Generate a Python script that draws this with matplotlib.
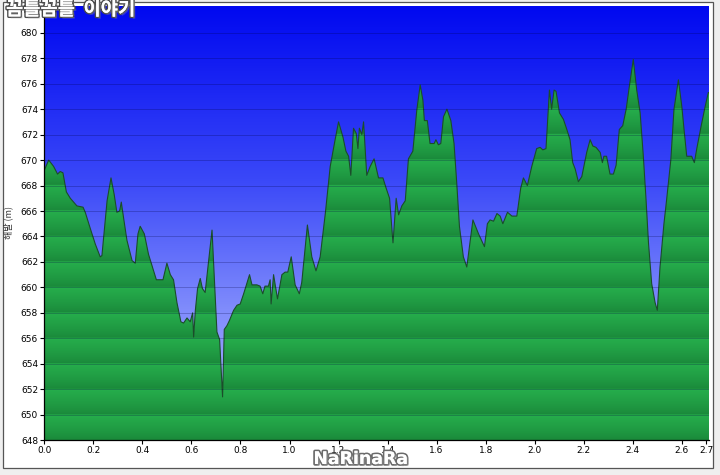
import numpy as np
import matplotlib.pyplot as plt
import matplotlib.patheffects as pe
from matplotlib.colors import LinearSegmentedColormap
from matplotlib.patches import Rectangle, Polygon

# elevation profile (distance in km, elevation in m)
dist_km = [0.000, 0.018, 0.038, 0.054, 0.065, 0.076, 0.090, 0.106, 0.133, 0.158,
           0.167, 0.188, 0.208, 0.228, 0.235, 0.256, 0.272, 0.285, 0.296, 0.307,
           0.314, 0.323, 0.337, 0.358, 0.371, 0.382, 0.391, 0.408, 0.425, 0.457,
           0.484, 0.500, 0.514, 0.527, 0.541, 0.557, 0.568, 0.582, 0.595, 0.605,
           0.609, 0.616, 0.625, 0.636, 0.645, 0.656, 0.684, 0.704, 0.715, 0.727,
           0.734, 0.745, 0.755, 0.772, 0.786, 0.799, 0.813, 0.837, 0.847, 0.867,
           0.880, 0.891, 0.900, 0.914, 0.921, 0.925, 0.935, 0.951, 0.969, 0.982,
           0.993, 1.007, 1.023, 1.040, 1.050, 1.073, 1.091, 1.108, 1.125, 1.146,
           1.166, 1.186, 1.200, 1.218, 1.230, 1.241, 1.250, 1.261, 1.272, 1.279,
           1.285, 1.295, 1.302, 1.315, 1.329, 1.345, 1.363, 1.381, 1.394, 1.408,
           1.422, 1.435, 1.445, 1.458, 1.472, 1.485, 1.503, 1.519, 1.533, 1.544,
           1.550, 1.562, 1.573, 1.590, 1.597, 1.607, 1.617, 1.628, 1.642, 1.658,
           1.671, 1.682, 1.693, 1.709, 1.723, 1.734, 1.748, 1.771, 1.795, 1.807,
           1.818, 1.832, 1.846, 1.859, 1.870, 1.889, 1.907, 1.927, 1.943, 1.954,
           1.970, 1.988, 2.008, 2.022, 2.033, 2.046, 2.060, 2.069, 2.079, 2.087,
           2.101, 2.117, 2.131, 2.144, 2.155, 2.165, 2.178, 2.192, 2.212, 2.226,
           2.237, 2.250, 2.267, 2.276, 2.282, 2.293, 2.307, 2.321, 2.332, 2.345,
           2.359, 2.373, 2.386, 2.402, 2.416, 2.430, 2.443, 2.454, 2.464, 2.477,
           2.491, 2.500, 2.511, 2.527, 2.538, 2.555, 2.568, 2.586, 2.600, 2.609,
           2.620, 2.640, 2.651, 2.661, 2.678, 2.695, 2.708, 2.712]
elev_m = [669.2, 670.0, 669.5, 668.9, 669.1, 669.0, 667.5, 667.0, 666.4, 666.3,
          665.9, 664.6, 663.4, 662.4, 662.5, 666.8, 668.6, 667.3, 665.9, 666.0,
          666.7, 665.5, 663.7, 662.1, 661.9, 664.2, 664.8, 664.2, 662.6, 660.6,
          660.6, 661.9, 661.0, 660.6, 658.8, 657.3, 657.2, 657.6, 657.3, 658.0,
          656.1, 658.2, 659.9, 660.7, 659.9, 659.6, 664.5, 656.5, 655.9, 651.4,
          656.7, 657.0, 657.4, 658.2, 658.6, 658.7, 659.5, 661.0, 660.2, 660.2,
          660.1, 659.5, 660.1, 660.1, 660.6, 658.7, 661.0, 659.1, 661.0, 661.2,
          661.2, 662.4, 660.2, 659.5, 660.4, 664.9, 662.4, 661.3, 662.4, 665.8,
          669.5, 671.6, 673.0, 671.8, 670.7, 670.3, 668.8, 672.5, 672.1, 670.9,
          672.5, 672.0, 673.0, 668.8, 669.5, 670.1, 668.6, 668.6, 667.8, 667.0,
          663.5, 667.0, 665.7, 666.4, 666.8, 670.1, 670.7, 673.9, 675.9, 674.7,
          673.1, 673.1, 671.3, 671.3, 671.6, 671.2, 671.3, 673.4, 674.0, 673.1,
          671.3, 668.2, 664.8, 662.4, 661.6, 663.2, 665.3, 664.2, 663.2, 665.0,
          665.3, 665.2, 665.8, 665.6, 665.0, 665.9, 665.6, 665.6, 667.8, 668.6,
          668.0, 669.5, 670.9, 671.0, 670.8, 670.9, 675.5, 674.0, 675.5, 675.4,
          673.7, 673.2, 672.4, 671.6, 669.8, 669.3, 668.3, 668.7, 670.6, 671.6,
          671.1, 671.0, 670.6, 669.8, 670.3, 670.3, 668.9, 668.9, 669.6, 672.4,
          672.7, 674.0, 675.8, 677.9, 675.5, 673.7, 670.3, 666.9, 663.5, 660.3,
          658.8, 658.2, 661.6, 665.0, 666.9, 670.0, 674.0, 676.3, 674.2, 672.4,
          670.3, 670.3, 669.8, 670.9, 672.6, 674.2, 675.3, 675.3]

x_ticks = [0.0, 0.2, 0.4, 0.6, 0.8, 1.0, 1.2, 1.4, 1.6, 1.8, 2.0, 2.2, 2.4, 2.6, 2.7]
x_labels = ["0.0", "0.2", "0.4", "0.6", "0.8", "1.0", "1.2", "1.4", "1.6", "1.8",
            "2.0", "2.2", "2.4", "2.6", "2.7"]
y_ticks = list(range(648, 681, 2))

xmin, xmax = 0.0, 2.712
ymin, ymax = 648.0, 682.1

fig = plt.figure(figsize=(7.2, 4.75), dpi=100)
fig.patch.set_facecolor('#efefef')
# white page with thin border
fig.patches.append(Rectangle((3 / 720, 7 / 475), 710 / 720, 466 / 475,
                             transform=fig.transFigure, facecolor='white',
                             edgecolor='#555555', lw=0.9, zorder=-10))

ax = fig.add_axes([44.3 / 720, 34.8 / 475, 665 / 720, 434.2 / 475])
ax.set_zorder(1)

# blue sky gradient
blue = LinearSegmentedColormap.from_list(
    'sky', [(0.0, '#b0b8ff'), (0.3, '#808cfc'), (0.6, '#3a48f8'), (1.0, '#0008f0')])
grad = np.linspace(0, 1, 256).reshape(-1, 1)
ax.imshow(grad, extent=[xmin, xmax, ymin, ymax], origin='lower', aspect='auto',
          cmap=blue, zorder=0)

# banded green terrain, clipped to the profile
yy = np.linspace(ymin, ymax, 1600)
frac = ((yy - 648) % 2) / 2
light = np.array([38, 174, 76]) / 255
dark = np.array([26, 136, 58]) / 255
rows = dark[None, :] + (light - dark)[None, :] * (frac[:, None] ** 0.8)
green_img = np.repeat(rows[:, None, :], 2, axis=1)
img = ax.imshow(green_img, extent=[xmin, xmax, ymin, ymax], origin='lower',
                aspect='auto', zorder=1, interpolation='bilinear')
verts = np.column_stack([[dist_km[0]] + dist_km + [dist_km[-1]],
                         [ymin] + elev_m + [ymin]])
terrain = Polygon(verts, closed=True, facecolor='none', edgecolor='none',
                  transform=ax.transData)
ax.add_patch(terrain)
img.set_clip_path(terrain)
ax.plot(dist_km, elev_m, color='#1b4d2a', lw=0.8, zorder=2)

for y in y_ticks:
    ax.axhline(y, color='#000040', lw=0.6, alpha=0.28, zorder=3)

ax.set_xlim(xmin, xmax)
ax.set_ylim(ymin, ymax)
ax.set_xticks(x_ticks)
ax.set_xticklabels(x_labels)
ax.set_yticks(y_ticks)
ax.tick_params(direction='out', length=3, width=0.8, labelsize=6.5, pad=1.5)
for s in ['top', 'right']:
    ax.spines[s].set_visible(False)
ax.spines['left'].set_linewidth(0.9)
ax.spines['bottom'].set_linewidth(0.9)

fig.text(8 / 720, 1 - 222 / 475, '해발 (m)', rotation=90, ha='center', va='center',
         fontsize=6.5, family=['Noto Sans CJK KR', 'DejaVu Sans'], color='#333333')

# watermarks
fig.text(6 / 720, 1.0, '꼼틀꼼틀  이야기', ha='left', va='top', fontsize=13.5,
         fontweight='bold', color='white', family=['Noto Sans CJK KR', 'DejaVu Sans'],
         path_effects=[pe.withStroke(linewidth=2.2, foreground='#4a4a4a'),
                       pe.SimplePatchShadow(offset=(1.5, -1.5), shadow_rgbFace='#999999'),
                       pe.Normal()], zorder=10)
fig.text(361 / 720, 1 - 459 / 475, 'NaRinaRa', ha='center', va='center', fontsize=12.5,
         fontweight='bold', color='white',
         path_effects=[pe.withStroke(linewidth=2.5, foreground='#6a6a6a'),
                       pe.SimplePatchShadow(offset=(1.5, -1.5), shadow_rgbFace='#aaaaaa'),
                       pe.Normal()], zorder=10)

fig.savefig('out.png', dpi=100, facecolor=fig.get_facecolor())
